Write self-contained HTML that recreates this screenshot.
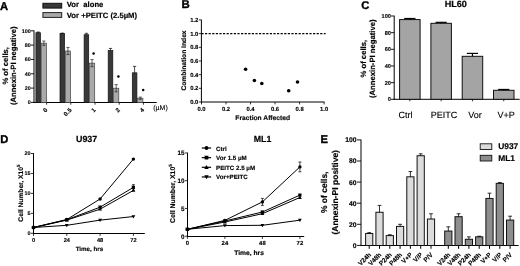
<!DOCTYPE html>
<html><head><meta charset="utf-8"><style>
html,body{margin:0;padding:0;background:#fff;}
svg{display:block;font-family:"Liberation Sans", sans-serif;filter:grayscale(100%) blur(0.3px);text-rendering:geometricPrecision;}
</style></head><body>
<svg width="520" height="266" viewBox="0 0 520 266">
<rect width="520" height="266" fill="#fff"/>
<text x="0.00" y="9.60" font-size="11.2" font-weight="bold" text-anchor="start" fill="#000" stroke="#000" stroke-width="0.35">A</text>
<rect x="42.90" y="3.30" width="18.80" height="4.80" fill="#383838" stroke="#111" stroke-width="1.0"/>
<rect x="42.90" y="12.60" width="18.80" height="4.80" fill="#aaaaaa" stroke="#222" stroke-width="1.0"/>
<text x="66.80" y="6.80" font-size="7.7" font-weight="bold" text-anchor="start" fill="#000" stroke="#000" stroke-width="0.162">Vor&#160;&#160;alone</text>
<text x="66.80" y="17.70" font-size="7.7" font-weight="bold" text-anchor="start" fill="#000" stroke="#000" stroke-width="0.162">Vor +PEITC (2.5µM)</text>
<line x1="34.00" y1="30.50" x2="34.00" y2="103.00" stroke="#000" stroke-width="1.0"/>
<line x1="33.50" y1="102.50" x2="156.70" y2="102.50" stroke="#000" stroke-width="1.0"/>
<line x1="31.00" y1="102.40" x2="34.00" y2="102.40" stroke="#000" stroke-width="0.9"/>
<text x="30.70" y="104.30" font-size="5.4" font-weight="bold" text-anchor="end" fill="#000" stroke="#000" stroke-width="0.113">0</text>
<line x1="31.00" y1="88.08" x2="34.00" y2="88.08" stroke="#000" stroke-width="0.9"/>
<text x="30.70" y="89.98" font-size="5.4" font-weight="bold" text-anchor="end" fill="#000" stroke="#000" stroke-width="0.113">20</text>
<line x1="31.00" y1="73.76" x2="34.00" y2="73.76" stroke="#000" stroke-width="0.9"/>
<text x="30.70" y="75.66" font-size="5.4" font-weight="bold" text-anchor="end" fill="#000" stroke="#000" stroke-width="0.113">40</text>
<line x1="31.00" y1="59.44" x2="34.00" y2="59.44" stroke="#000" stroke-width="0.9"/>
<text x="30.70" y="61.34" font-size="5.4" font-weight="bold" text-anchor="end" fill="#000" stroke="#000" stroke-width="0.113">60</text>
<line x1="31.00" y1="45.12" x2="34.00" y2="45.12" stroke="#000" stroke-width="0.9"/>
<text x="30.70" y="47.02" font-size="5.4" font-weight="bold" text-anchor="end" fill="#000" stroke="#000" stroke-width="0.113">80</text>
<line x1="31.00" y1="30.80" x2="34.00" y2="30.80" stroke="#000" stroke-width="0.9"/>
<text x="30.70" y="32.70" font-size="5.4" font-weight="bold" text-anchor="end" fill="#000" stroke="#000" stroke-width="0.113">100</text>
<text x="7.60" y="65.80" font-size="7.7" font-weight="bold" text-anchor="middle" fill="#000" transform="rotate(-90 7.6 65.8)" stroke="#000" stroke-width="0.162">% of cells,</text>
<text x="16.00" y="65.80" font-size="7.7" font-weight="bold" text-anchor="middle" fill="#000" transform="rotate(-90 16.0 65.8)" stroke="#000" stroke-width="0.162">(Annexin-PI negative)</text>
<rect x="35.90" y="32.73" width="4.60" height="69.77" fill="#383838" stroke="#111" stroke-width="0.7"/>
<rect x="41.20" y="43.19" width="5.30" height="59.31" fill="#aaaaaa" stroke="#444" stroke-width="0.7"/>
<line x1="38.20" y1="32.02" x2="38.20" y2="32.73" stroke="#000" stroke-width="0.7"/>
<line x1="36.60" y1="32.02" x2="39.80" y2="32.02" stroke="#000" stroke-width="0.7"/>
<line x1="43.85" y1="41.04" x2="43.85" y2="45.33" stroke="#222" stroke-width="0.7"/>
<line x1="42.25" y1="45.33" x2="45.45" y2="45.33" stroke="#222" stroke-width="0.7"/>
<line x1="42.25" y1="41.04" x2="45.45" y2="41.04" stroke="#222" stroke-width="0.7"/>
<line x1="46.60" y1="102.50" x2="46.60" y2="104.70" stroke="#000" stroke-width="0.8"/>
<rect x="60.00" y="33.52" width="4.60" height="68.98" fill="#383838" stroke="#111" stroke-width="0.7"/>
<rect x="65.30" y="50.99" width="5.30" height="51.51" fill="#aaaaaa" stroke="#444" stroke-width="0.7"/>
<line x1="62.30" y1="33.09" x2="62.30" y2="33.52" stroke="#000" stroke-width="0.7"/>
<line x1="60.70" y1="33.09" x2="63.90" y2="33.09" stroke="#000" stroke-width="0.7"/>
<line x1="67.95" y1="47.41" x2="67.95" y2="54.57" stroke="#222" stroke-width="0.7"/>
<line x1="66.35" y1="54.57" x2="69.55" y2="54.57" stroke="#222" stroke-width="0.7"/>
<line x1="66.35" y1="47.41" x2="69.55" y2="47.41" stroke="#222" stroke-width="0.7"/>
<line x1="70.80" y1="102.50" x2="70.80" y2="104.70" stroke="#000" stroke-width="0.8"/>
<rect x="84.10" y="34.74" width="4.60" height="67.76" fill="#383838" stroke="#111" stroke-width="0.7"/>
<rect x="89.40" y="63.16" width="5.30" height="39.34" fill="#aaaaaa" stroke="#444" stroke-width="0.7"/>
<line x1="86.40" y1="33.31" x2="86.40" y2="34.74" stroke="#000" stroke-width="0.7"/>
<line x1="84.80" y1="33.31" x2="88.00" y2="33.31" stroke="#000" stroke-width="0.7"/>
<line x1="92.05" y1="59.58" x2="92.05" y2="66.74" stroke="#222" stroke-width="0.7"/>
<line x1="90.45" y1="66.74" x2="93.65" y2="66.74" stroke="#222" stroke-width="0.7"/>
<line x1="90.45" y1="59.58" x2="93.65" y2="59.58" stroke="#222" stroke-width="0.7"/>
<line x1="95.00" y1="102.50" x2="95.00" y2="104.70" stroke="#000" stroke-width="0.8"/>
<rect x="108.20" y="50.56" width="4.60" height="51.94" fill="#383838" stroke="#111" stroke-width="0.7"/>
<rect x="113.50" y="88.22" width="5.30" height="14.28" fill="#aaaaaa" stroke="#444" stroke-width="0.7"/>
<line x1="110.50" y1="48.41" x2="110.50" y2="50.56" stroke="#000" stroke-width="0.7"/>
<line x1="108.90" y1="48.41" x2="112.10" y2="48.41" stroke="#000" stroke-width="0.7"/>
<line x1="116.15" y1="84.64" x2="116.15" y2="91.80" stroke="#222" stroke-width="0.7"/>
<line x1="114.55" y1="91.80" x2="117.75" y2="91.80" stroke="#222" stroke-width="0.7"/>
<line x1="114.55" y1="84.64" x2="117.75" y2="84.64" stroke="#222" stroke-width="0.7"/>
<line x1="119.20" y1="102.50" x2="119.20" y2="104.70" stroke="#000" stroke-width="0.8"/>
<rect x="132.30" y="72.83" width="4.60" height="29.67" fill="#383838" stroke="#111" stroke-width="0.7"/>
<rect x="137.60" y="98.18" width="5.30" height="4.32" fill="#aaaaaa" stroke="#444" stroke-width="0.7"/>
<line x1="134.60" y1="66.39" x2="134.60" y2="72.83" stroke="#000" stroke-width="0.7"/>
<line x1="133.00" y1="66.39" x2="136.20" y2="66.39" stroke="#000" stroke-width="0.7"/>
<line x1="140.25" y1="97.10" x2="140.25" y2="99.25" stroke="#222" stroke-width="0.7"/>
<line x1="138.65" y1="99.25" x2="141.85" y2="99.25" stroke="#222" stroke-width="0.7"/>
<line x1="138.65" y1="97.10" x2="141.85" y2="97.10" stroke="#222" stroke-width="0.7"/>
<line x1="143.40" y1="102.50" x2="143.40" y2="104.70" stroke="#000" stroke-width="0.8"/>
<text x="47.80" y="110.50" font-size="6.0" font-weight="bold" text-anchor="end" fill="#000" transform="rotate(-45 47.800000000000004 110.5)" stroke="#000" stroke-width="0.126">0</text>
<text x="72.00" y="110.50" font-size="6.0" font-weight="bold" text-anchor="end" fill="#000" transform="rotate(-45 72.0 110.5)" stroke="#000" stroke-width="0.126">0.5</text>
<text x="96.20" y="110.50" font-size="6.0" font-weight="bold" text-anchor="end" fill="#000" transform="rotate(-45 96.2 110.5)" stroke="#000" stroke-width="0.126">1</text>
<text x="120.40" y="110.50" font-size="6.0" font-weight="bold" text-anchor="end" fill="#000" transform="rotate(-45 120.39999999999999 110.5)" stroke="#000" stroke-width="0.126">2</text>
<text x="144.60" y="110.50" font-size="6.0" font-weight="bold" text-anchor="end" fill="#000" transform="rotate(-45 144.6 110.5)" stroke="#000" stroke-width="0.126">4</text>
<circle cx="93.60" cy="53.40" r="1.25" fill="#000"/>
<circle cx="118.40" cy="76.40" r="1.25" fill="#000"/>
<circle cx="143.20" cy="90.00" r="1.25" fill="#000"/>
<text x="153.20" y="109.80" font-size="7.0" font-weight="normal" text-anchor="start" fill="#000" stroke="#000" stroke-width="0.120">(µM)</text>
<text x="181.40" y="8.10" font-size="11.4" font-weight="bold" text-anchor="start" fill="#000" stroke="#000" stroke-width="0.35">B</text>
<line x1="201.40" y1="19.62" x2="201.40" y2="102.50" stroke="#000" stroke-width="1.0"/>
<line x1="201.00" y1="102.00" x2="324.50" y2="102.00" stroke="#000" stroke-width="1.0"/>
<line x1="198.80" y1="102.00" x2="201.40" y2="102.00" stroke="#000" stroke-width="0.8"/>
<text x="198.40" y="104.10" font-size="5.9" font-weight="bold" text-anchor="end" fill="#000" stroke="#000" stroke-width="0.124">0.0</text>
<line x1="198.80" y1="88.32" x2="201.40" y2="88.32" stroke="#000" stroke-width="0.8"/>
<text x="198.40" y="90.42" font-size="5.9" font-weight="bold" text-anchor="end" fill="#000" stroke="#000" stroke-width="0.124">0.2</text>
<line x1="198.80" y1="74.64" x2="201.40" y2="74.64" stroke="#000" stroke-width="0.8"/>
<text x="198.40" y="76.74" font-size="5.9" font-weight="bold" text-anchor="end" fill="#000" stroke="#000" stroke-width="0.124">0.4</text>
<line x1="198.80" y1="60.96" x2="201.40" y2="60.96" stroke="#000" stroke-width="0.8"/>
<text x="198.40" y="63.06" font-size="5.9" font-weight="bold" text-anchor="end" fill="#000" stroke="#000" stroke-width="0.124">0.6</text>
<line x1="198.80" y1="47.28" x2="201.40" y2="47.28" stroke="#000" stroke-width="0.8"/>
<text x="198.40" y="49.38" font-size="5.9" font-weight="bold" text-anchor="end" fill="#000" stroke="#000" stroke-width="0.124">0.8</text>
<line x1="198.80" y1="33.60" x2="201.40" y2="33.60" stroke="#000" stroke-width="0.8"/>
<text x="198.40" y="35.70" font-size="5.9" font-weight="bold" text-anchor="end" fill="#000" stroke="#000" stroke-width="0.124">1.0</text>
<line x1="198.80" y1="19.92" x2="201.40" y2="19.92" stroke="#000" stroke-width="0.8"/>
<text x="198.40" y="22.02" font-size="5.9" font-weight="bold" text-anchor="end" fill="#000" stroke="#000" stroke-width="0.124">1.2</text>
<line x1="201.50" y1="102.00" x2="201.50" y2="104.40" stroke="#000" stroke-width="0.8"/>
<text x="201.50" y="110.50" font-size="5.9" font-weight="bold" text-anchor="middle" fill="#000" stroke="#000" stroke-width="0.124">0.0</text>
<line x1="226.02" y1="102.00" x2="226.02" y2="104.40" stroke="#000" stroke-width="0.8"/>
<text x="226.02" y="110.50" font-size="5.9" font-weight="bold" text-anchor="middle" fill="#000" stroke="#000" stroke-width="0.124">0.2</text>
<line x1="250.54" y1="102.00" x2="250.54" y2="104.40" stroke="#000" stroke-width="0.8"/>
<text x="250.54" y="110.50" font-size="5.9" font-weight="bold" text-anchor="middle" fill="#000" stroke="#000" stroke-width="0.124">0.4</text>
<line x1="275.06" y1="102.00" x2="275.06" y2="104.40" stroke="#000" stroke-width="0.8"/>
<text x="275.06" y="110.50" font-size="5.9" font-weight="bold" text-anchor="middle" fill="#000" stroke="#000" stroke-width="0.124">0.6</text>
<line x1="299.58" y1="102.00" x2="299.58" y2="104.40" stroke="#000" stroke-width="0.8"/>
<text x="299.58" y="110.50" font-size="5.9" font-weight="bold" text-anchor="middle" fill="#000" stroke="#000" stroke-width="0.124">0.8</text>
<line x1="324.10" y1="102.00" x2="324.10" y2="104.40" stroke="#000" stroke-width="0.8"/>
<text x="324.10" y="110.50" font-size="5.9" font-weight="bold" text-anchor="middle" fill="#000" stroke="#000" stroke-width="0.124">1.0</text>
<line x1="201.40" y1="33.60" x2="325.60" y2="33.60" stroke="#000" stroke-width="1.1" stroke-dasharray="2.2 1.4"/>
<circle cx="245.60" cy="69.30" r="1.8" fill="#000"/>
<circle cx="254.40" cy="80.50" r="1.8" fill="#000"/>
<circle cx="261.80" cy="83.50" r="1.8" fill="#000"/>
<circle cx="288.70" cy="90.80" r="1.8" fill="#000"/>
<circle cx="297.50" cy="82.00" r="1.8" fill="#000"/>
<text x="262.70" y="120.20" font-size="6.7" font-weight="bold" text-anchor="middle" fill="#000" stroke="#000" stroke-width="0.141">Fraction Affected</text>
<text x="186.30" y="60.50" font-size="6.7" font-weight="bold" text-anchor="middle" fill="#000" transform="rotate(-90 186.3 60.5)" stroke="#000" stroke-width="0.141">Combination Index</text>
<text x="361.20" y="8.90" font-size="11.2" font-weight="bold" text-anchor="start" fill="#000" stroke="#000" stroke-width="0.35">C</text>
<text x="455.80" y="7.00" font-size="9.1" font-weight="bold" text-anchor="middle" fill="#000" stroke="#000" stroke-width="0.191">HL60</text>
<line x1="394.20" y1="15.70" x2="394.20" y2="99.80" stroke="#000" stroke-width="1.0"/>
<line x1="393.70" y1="99.30" x2="519.70" y2="99.30" stroke="#000" stroke-width="1.0"/>
<line x1="391.00" y1="99.30" x2="394.20" y2="99.30" stroke="#000" stroke-width="0.9"/>
<text x="390.90" y="101.30" font-size="5.6" font-weight="bold" text-anchor="end" fill="#000" stroke="#000" stroke-width="0.118">0</text>
<line x1="391.00" y1="82.64" x2="394.20" y2="82.64" stroke="#000" stroke-width="0.9"/>
<text x="390.90" y="84.64" font-size="5.6" font-weight="bold" text-anchor="end" fill="#000" stroke="#000" stroke-width="0.118">20</text>
<line x1="391.00" y1="65.98" x2="394.20" y2="65.98" stroke="#000" stroke-width="0.9"/>
<text x="390.90" y="67.98" font-size="5.6" font-weight="bold" text-anchor="end" fill="#000" stroke="#000" stroke-width="0.118">40</text>
<line x1="391.00" y1="49.32" x2="394.20" y2="49.32" stroke="#000" stroke-width="0.9"/>
<text x="390.90" y="51.32" font-size="5.6" font-weight="bold" text-anchor="end" fill="#000" stroke="#000" stroke-width="0.118">60</text>
<line x1="391.00" y1="32.66" x2="394.20" y2="32.66" stroke="#000" stroke-width="0.9"/>
<text x="390.90" y="34.66" font-size="5.6" font-weight="bold" text-anchor="end" fill="#000" stroke="#000" stroke-width="0.118">80</text>
<line x1="391.00" y1="16.00" x2="394.20" y2="16.00" stroke="#000" stroke-width="0.9"/>
<text x="390.90" y="18.00" font-size="5.6" font-weight="bold" text-anchor="end" fill="#000" stroke="#000" stroke-width="0.118">100</text>
<text x="366.20" y="58.70" font-size="7.7" font-weight="bold" text-anchor="middle" fill="#000" transform="rotate(-90 366.2 58.7)" stroke="#000" stroke-width="0.162">% of cells,</text>
<text x="375.30" y="58.70" font-size="7.7" font-weight="bold" text-anchor="middle" fill="#000" transform="rotate(-90 375.3 58.7)" stroke="#000" stroke-width="0.162">(Annexin-PI negative)</text>
<rect x="399.60" y="19.58" width="20.50" height="79.72" fill="#a4a4a4" stroke="#111" stroke-width="1.0"/>
<line x1="409.85" y1="18.50" x2="409.85" y2="19.58" stroke="#000" stroke-width="1.2"/>
<line x1="404.25" y1="18.50" x2="415.45" y2="18.50" stroke="#000" stroke-width="1.2"/>
<line x1="409.85" y1="99.30" x2="409.85" y2="101.30" stroke="#000" stroke-width="0.8"/>
<text x="405.60" y="118.10" font-size="9.0" font-weight="normal" text-anchor="middle" fill="#000" stroke="#000" stroke-width="0.120">Ctrl</text>
<rect x="430.90" y="23.33" width="20.50" height="75.97" fill="#a4a4a4" stroke="#111" stroke-width="1.0"/>
<line x1="441.15" y1="22.33" x2="441.15" y2="23.33" stroke="#000" stroke-width="1.2"/>
<line x1="435.55" y1="22.33" x2="446.75" y2="22.33" stroke="#000" stroke-width="1.2"/>
<line x1="441.15" y1="99.30" x2="441.15" y2="101.30" stroke="#000" stroke-width="0.8"/>
<text x="443.90" y="118.10" font-size="9.0" font-weight="normal" text-anchor="middle" fill="#000" stroke="#000" stroke-width="0.120">PEITC</text>
<rect x="462.20" y="56.32" width="20.50" height="42.98" fill="#a4a4a4" stroke="#111" stroke-width="1.0"/>
<line x1="472.45" y1="53.40" x2="472.45" y2="56.32" stroke="#000" stroke-width="1.2"/>
<line x1="466.85" y1="53.40" x2="478.05" y2="53.40" stroke="#000" stroke-width="1.2"/>
<line x1="472.45" y1="99.30" x2="472.45" y2="101.30" stroke="#000" stroke-width="0.8"/>
<text x="475.00" y="118.10" font-size="9.0" font-weight="normal" text-anchor="middle" fill="#000" stroke="#000" stroke-width="0.120">Vor</text>
<rect x="493.50" y="90.30" width="20.50" height="9.00" fill="#a4a4a4" stroke="#111" stroke-width="1.0"/>
<line x1="503.75" y1="89.47" x2="503.75" y2="90.30" stroke="#000" stroke-width="1.2"/>
<line x1="498.15" y1="89.47" x2="509.35" y2="89.47" stroke="#000" stroke-width="1.2"/>
<line x1="503.75" y1="99.30" x2="503.75" y2="101.30" stroke="#000" stroke-width="0.8"/>
<text x="506.10" y="118.10" font-size="9.0" font-weight="normal" text-anchor="middle" fill="#000" stroke="#000" stroke-width="0.120">V+P</text>
<text x="0.30" y="143.00" font-size="11.2" font-weight="bold" text-anchor="start" fill="#000" stroke="#000" stroke-width="0.35">D</text>
<text x="86.60" y="141.60" font-size="8.9" font-weight="bold" text-anchor="middle" fill="#000" stroke="#000" stroke-width="0.187">U937</text>
<line x1="33.50" y1="153.20" x2="33.50" y2="234.00" stroke="#000" stroke-width="1.0"/>
<line x1="33.10" y1="233.50" x2="144.80" y2="233.50" stroke="#000" stroke-width="1.0"/>
<line x1="30.90" y1="233.30" x2="33.50" y2="233.30" stroke="#000" stroke-width="0.8"/>
<text x="30.50" y="235.20" font-size="5.4" font-weight="bold" text-anchor="end" fill="#000" stroke="#000" stroke-width="0.113">0</text>
<line x1="30.90" y1="213.35" x2="33.50" y2="213.35" stroke="#000" stroke-width="0.8"/>
<text x="30.50" y="215.25" font-size="5.4" font-weight="bold" text-anchor="end" fill="#000" stroke="#000" stroke-width="0.113">5</text>
<line x1="30.90" y1="193.40" x2="33.50" y2="193.40" stroke="#000" stroke-width="0.8"/>
<text x="30.50" y="195.30" font-size="5.4" font-weight="bold" text-anchor="end" fill="#000" stroke="#000" stroke-width="0.113">10</text>
<line x1="30.90" y1="173.45" x2="33.50" y2="173.45" stroke="#000" stroke-width="0.8"/>
<text x="30.50" y="175.35" font-size="5.4" font-weight="bold" text-anchor="end" fill="#000" stroke="#000" stroke-width="0.113">15</text>
<line x1="30.90" y1="153.50" x2="33.50" y2="153.50" stroke="#000" stroke-width="0.8"/>
<text x="30.50" y="155.40" font-size="5.4" font-weight="bold" text-anchor="end" fill="#000" stroke="#000" stroke-width="0.113">20</text>
<line x1="33.50" y1="233.50" x2="33.50" y2="235.90" stroke="#000" stroke-width="0.8"/>
<text x="33.50" y="242.20" font-size="5.6" font-weight="bold" text-anchor="middle" fill="#000" stroke="#000" stroke-width="0.118">0</text>
<line x1="66.80" y1="233.50" x2="66.80" y2="235.90" stroke="#000" stroke-width="0.8"/>
<text x="66.80" y="242.20" font-size="5.6" font-weight="bold" text-anchor="middle" fill="#000" stroke="#000" stroke-width="0.118">24</text>
<line x1="100.10" y1="233.50" x2="100.10" y2="235.90" stroke="#000" stroke-width="0.8"/>
<text x="100.10" y="242.20" font-size="5.6" font-weight="bold" text-anchor="middle" fill="#000" stroke="#000" stroke-width="0.118">48</text>
<line x1="133.40" y1="233.50" x2="133.40" y2="235.90" stroke="#000" stroke-width="0.8"/>
<text x="133.40" y="242.20" font-size="5.6" font-weight="bold" text-anchor="middle" fill="#000" stroke="#000" stroke-width="0.118">72</text>
<text x="89.40" y="250.80" font-size="6.2" font-weight="bold" text-anchor="middle" fill="#000" stroke="#000" stroke-width="0.130">Time, hrs</text>
<text x="22.90" y="193.10" font-size="6.7" font-weight="bold" text-anchor="middle" fill="#000" transform="rotate(-90 22.9 193.1)" stroke="#000" stroke-width="0.141">Cell Number, X10<tspan font-size="4.5" dy="-2.7">5</tspan></text>
<polyline points="33.50,227.51 66.80,219.53 100.10,198.99 133.40,159.09" fill="none" stroke="#000" stroke-width="1.0"/>
<circle cx="33.50" cy="227.51" r="1.7" fill="#000"/>
<circle cx="66.80" cy="219.53" r="1.7" fill="#000"/>
<circle cx="100.10" cy="198.99" r="1.7" fill="#000"/>
<circle cx="133.40" cy="159.09" r="1.7" fill="#000"/>
<polyline points="33.50,227.51 66.80,219.73 100.10,207.17 133.40,187.42" fill="none" stroke="#000" stroke-width="1.0"/>
<rect x="31.95" y="225.96" width="3.10" height="3.10" fill="#000" stroke="#000" stroke-width="0.1"/>
<rect x="65.25" y="218.18" width="3.10" height="3.10" fill="#000" stroke="#000" stroke-width="0.1"/>
<rect x="98.55" y="205.62" width="3.10" height="3.10" fill="#000" stroke="#000" stroke-width="0.1"/>
<rect x="131.85" y="185.87" width="3.10" height="3.10" fill="#000" stroke="#000" stroke-width="0.1"/>
<polyline points="33.50,227.51 66.80,220.13 100.10,209.16 133.40,190.41" fill="none" stroke="#000" stroke-width="1.0"/>
<path d="M31.60,228.91 L35.40,228.91 L33.50,225.61 Z" fill="#000"/>
<path d="M64.90,221.53 L68.70,221.53 L66.80,218.23 Z" fill="#000"/>
<path d="M98.20,210.56 L102.00,210.56 L100.10,207.26 Z" fill="#000"/>
<path d="M131.50,191.81 L135.30,191.81 L133.40,188.51 Z" fill="#000"/>
<polyline points="33.50,227.51 66.80,225.32 100.10,220.13 133.40,216.54" fill="none" stroke="#000" stroke-width="1.0"/>
<path d="M31.60,226.11 L35.40,226.11 L33.50,229.41 Z" fill="#000"/>
<path d="M64.90,223.92 L68.70,223.92 L66.80,227.22 Z" fill="#000"/>
<path d="M98.20,218.73 L102.00,218.73 L100.10,222.03 Z" fill="#000"/>
<path d="M131.50,215.14 L135.30,215.14 L133.40,218.44 Z" fill="#000"/>
<line x1="133.40" y1="184.62" x2="133.40" y2="190.21" stroke="#000" stroke-width="0.7"/>
<line x1="132.00" y1="190.21" x2="134.80" y2="190.21" stroke="#000" stroke-width="0.7"/>
<line x1="132.00" y1="184.62" x2="134.80" y2="184.62" stroke="#000" stroke-width="0.7"/>
<text x="262.60" y="141.60" font-size="8.8" font-weight="bold" text-anchor="middle" fill="#000" stroke="#000" stroke-width="0.185">ML1</text>
<line x1="187.50" y1="152.65" x2="187.50" y2="237.00" stroke="#000" stroke-width="1.0"/>
<line x1="187.10" y1="236.50" x2="304.20" y2="236.50" stroke="#000" stroke-width="1.0"/>
<line x1="184.90" y1="236.20" x2="187.50" y2="236.20" stroke="#000" stroke-width="0.8"/>
<text x="184.50" y="238.50" font-size="6.3" font-weight="bold" text-anchor="end" fill="#000" stroke="#000" stroke-width="0.132">0</text>
<line x1="184.90" y1="208.45" x2="187.50" y2="208.45" stroke="#000" stroke-width="0.8"/>
<text x="184.50" y="210.75" font-size="6.3" font-weight="bold" text-anchor="end" fill="#000" stroke="#000" stroke-width="0.132">5</text>
<line x1="184.90" y1="180.70" x2="187.50" y2="180.70" stroke="#000" stroke-width="0.8"/>
<text x="184.50" y="183.00" font-size="6.3" font-weight="bold" text-anchor="end" fill="#000" stroke="#000" stroke-width="0.132">10</text>
<line x1="184.90" y1="152.95" x2="187.50" y2="152.95" stroke="#000" stroke-width="0.8"/>
<text x="184.50" y="155.25" font-size="6.3" font-weight="bold" text-anchor="end" fill="#000" stroke="#000" stroke-width="0.132">15</text>
<line x1="187.40" y1="236.50" x2="187.40" y2="238.90" stroke="#000" stroke-width="0.8"/>
<text x="187.40" y="245.40" font-size="5.9" font-weight="bold" text-anchor="middle" fill="#000" stroke="#000" stroke-width="0.124">0</text>
<line x1="224.90" y1="236.50" x2="224.90" y2="238.90" stroke="#000" stroke-width="0.8"/>
<text x="224.90" y="245.40" font-size="5.9" font-weight="bold" text-anchor="middle" fill="#000" stroke="#000" stroke-width="0.124">24</text>
<line x1="262.40" y1="236.50" x2="262.40" y2="238.90" stroke="#000" stroke-width="0.8"/>
<text x="262.40" y="245.40" font-size="5.9" font-weight="bold" text-anchor="middle" fill="#000" stroke="#000" stroke-width="0.124">48</text>
<line x1="299.90" y1="236.50" x2="299.90" y2="238.90" stroke="#000" stroke-width="0.8"/>
<text x="299.90" y="245.40" font-size="5.9" font-weight="bold" text-anchor="middle" fill="#000" stroke="#000" stroke-width="0.124">72</text>
<text x="249.10" y="255.20" font-size="6.7" font-weight="bold" text-anchor="middle" fill="#000" stroke="#000" stroke-width="0.141">Time, hrs</text>
<text x="175.30" y="193.60" font-size="6.9" font-weight="bold" text-anchor="middle" fill="#000" transform="rotate(-90 175.3 193.6)" stroke="#000" stroke-width="0.145">Cell Number, X10<tspan font-size="4.6" dy="-2.8">5</tspan></text>
<polyline points="187.40,229.30 224.90,220.40 262.40,201.90 299.90,166.90" fill="none" stroke="#000" stroke-width="1.0"/>
<circle cx="187.40" cy="229.30" r="1.7" fill="#000"/>
<circle cx="224.90" cy="220.40" r="1.7" fill="#000"/>
<circle cx="262.40" cy="201.90" r="1.7" fill="#000"/>
<circle cx="299.90" cy="166.90" r="1.7" fill="#000"/>
<polyline points="187.40,229.30 224.90,221.00 262.40,212.00 299.90,195.10" fill="none" stroke="#000" stroke-width="1.0"/>
<rect x="185.85" y="227.75" width="3.10" height="3.10" fill="#000" stroke="#000" stroke-width="0.1"/>
<rect x="223.35" y="219.45" width="3.10" height="3.10" fill="#000" stroke="#000" stroke-width="0.1"/>
<rect x="260.85" y="210.45" width="3.10" height="3.10" fill="#000" stroke="#000" stroke-width="0.1"/>
<rect x="298.35" y="193.55" width="3.10" height="3.10" fill="#000" stroke="#000" stroke-width="0.1"/>
<polyline points="187.40,229.30 224.90,222.00 262.40,213.70 299.90,197.50" fill="none" stroke="#000" stroke-width="1.0"/>
<path d="M185.50,230.70 L189.30,230.70 L187.40,227.40 Z" fill="#000"/>
<path d="M223.00,223.40 L226.80,223.40 L224.90,220.10 Z" fill="#000"/>
<path d="M260.50,215.10 L264.30,215.10 L262.40,211.80 Z" fill="#000"/>
<path d="M298.00,198.90 L301.80,198.90 L299.90,195.60 Z" fill="#000"/>
<polyline points="187.40,229.30 224.90,225.60 262.40,225.30 299.90,220.20" fill="none" stroke="#000" stroke-width="1.0"/>
<path d="M185.50,227.90 L189.30,227.90 L187.40,231.20 Z" fill="#000"/>
<path d="M223.00,224.20 L226.80,224.20 L224.90,227.50 Z" fill="#000"/>
<path d="M260.50,223.90 L264.30,223.90 L262.40,227.20 Z" fill="#000"/>
<path d="M298.00,218.80 L301.80,218.80 L299.90,222.10 Z" fill="#000"/>
<line x1="299.90" y1="162.00" x2="299.90" y2="171.80" stroke="#000" stroke-width="0.7"/>
<line x1="298.40" y1="171.80" x2="301.40" y2="171.80" stroke="#000" stroke-width="0.7"/>
<line x1="298.40" y1="162.00" x2="301.40" y2="162.00" stroke="#000" stroke-width="0.7"/>
<line x1="262.40" y1="198.40" x2="262.40" y2="205.40" stroke="#000" stroke-width="0.7"/>
<line x1="260.90" y1="205.40" x2="263.90" y2="205.40" stroke="#000" stroke-width="0.7"/>
<line x1="260.90" y1="198.40" x2="263.90" y2="198.40" stroke="#000" stroke-width="0.7"/>
<line x1="201.80" y1="148.00" x2="211.10" y2="148.00" stroke="#000" stroke-width="1.2"/>
<circle cx="206.50" cy="148.00" r="1.9549999999999998" fill="#000"/>
<text x="216.10" y="150.50" font-size="6.2" font-weight="bold" text-anchor="start" fill="#000" stroke="#000" stroke-width="0.130">Ctrl</text>
<line x1="201.80" y1="157.65" x2="211.10" y2="157.65" stroke="#000" stroke-width="1.2"/>
<rect x="204.72" y="155.87" width="3.56" height="3.56" fill="#000" stroke="#000" stroke-width="0.1"/>
<text x="216.10" y="160.15" font-size="6.2" font-weight="bold" text-anchor="start" fill="#000" stroke="#000" stroke-width="0.130">Vor 1.5 µM</text>
<line x1="201.80" y1="167.30" x2="211.10" y2="167.30" stroke="#000" stroke-width="1.2"/>
<path d="M204.31,168.91 L208.69,168.91 L206.50,165.12 Z" fill="#000"/>
<text x="216.10" y="169.80" font-size="6.2" font-weight="bold" text-anchor="start" fill="#000" stroke="#000" stroke-width="0.130">PEITC 2.5 µM</text>
<line x1="201.80" y1="176.95" x2="211.10" y2="176.95" stroke="#000" stroke-width="1.2"/>
<path d="M204.31,175.34 L208.69,175.34 L206.50,179.13 Z" fill="#000"/>
<text x="216.10" y="179.45" font-size="6.2" font-weight="bold" text-anchor="start" fill="#000" stroke="#000" stroke-width="0.130">Vor+PEITC</text>
<text x="320.50" y="142.90" font-size="11.2" font-weight="bold" text-anchor="start" fill="#000" stroke="#000" stroke-width="0.35">E</text>
<line x1="361.00" y1="139.60" x2="361.00" y2="246.00" stroke="#000" stroke-width="1.0"/>
<line x1="360.50" y1="245.50" x2="518.60" y2="245.50" stroke="#000" stroke-width="1.0"/>
<line x1="357.00" y1="245.40" x2="361.00" y2="245.40" stroke="#000" stroke-width="0.9"/>
<text x="356.60" y="247.80" font-size="6.8" font-weight="bold" text-anchor="end" fill="#000" stroke="#000" stroke-width="0.143">0</text>
<line x1="357.00" y1="224.30" x2="361.00" y2="224.30" stroke="#000" stroke-width="0.9"/>
<text x="356.60" y="226.70" font-size="6.8" font-weight="bold" text-anchor="end" fill="#000" stroke="#000" stroke-width="0.143">20</text>
<line x1="357.00" y1="203.20" x2="361.00" y2="203.20" stroke="#000" stroke-width="0.9"/>
<text x="356.60" y="205.60" font-size="6.8" font-weight="bold" text-anchor="end" fill="#000" stroke="#000" stroke-width="0.143">40</text>
<line x1="357.00" y1="182.10" x2="361.00" y2="182.10" stroke="#000" stroke-width="0.9"/>
<text x="356.60" y="184.50" font-size="6.8" font-weight="bold" text-anchor="end" fill="#000" stroke="#000" stroke-width="0.143">60</text>
<line x1="357.00" y1="161.00" x2="361.00" y2="161.00" stroke="#000" stroke-width="0.9"/>
<text x="356.60" y="163.40" font-size="6.8" font-weight="bold" text-anchor="end" fill="#000" stroke="#000" stroke-width="0.143">80</text>
<line x1="357.00" y1="139.90" x2="361.00" y2="139.90" stroke="#000" stroke-width="0.9"/>
<text x="356.60" y="142.30" font-size="6.8" font-weight="bold" text-anchor="end" fill="#000" stroke="#000" stroke-width="0.143">100</text>
<text x="327.40" y="192.30" font-size="8.5" font-weight="bold" text-anchor="middle" fill="#000" transform="rotate(-90 327.4 192.3)" stroke="#000" stroke-width="0.179">% of cells,</text>
<text x="337.60" y="192.30" font-size="8.5" font-weight="bold" text-anchor="middle" fill="#000" transform="rotate(-90 337.6 192.3)" stroke="#000" stroke-width="0.179">(Annexin-PI positive)</text>
<rect x="365.60" y="233.48" width="7.20" height="12.02" fill="#dcdcdc" stroke="#111" stroke-width="1.0"/>
<line x1="369.20" y1="232.63" x2="369.20" y2="233.48" stroke="#000" stroke-width="0.8"/>
<line x1="367.30" y1="232.63" x2="371.10" y2="232.63" stroke="#000" stroke-width="0.8"/>
<line x1="369.20" y1="245.50" x2="369.20" y2="248.80" stroke="#000" stroke-width="1.0"/>
<text x="371.60" y="255.20" font-size="6.4" font-weight="bold" text-anchor="end" fill="#000" transform="rotate(-45 371.6 255.2)" stroke="#000" stroke-width="0.134">V24h</text>
<rect x="444.70" y="231.05" width="7.20" height="14.45" fill="#8e8e8e" stroke="#111" stroke-width="1.0"/>
<line x1="448.30" y1="226.83" x2="448.30" y2="231.05" stroke="#000" stroke-width="0.8"/>
<line x1="446.40" y1="226.83" x2="450.20" y2="226.83" stroke="#000" stroke-width="0.8"/>
<line x1="448.30" y1="245.50" x2="448.30" y2="248.80" stroke="#000" stroke-width="1.0"/>
<text x="450.70" y="255.20" font-size="6.4" font-weight="bold" text-anchor="end" fill="#000" transform="rotate(-45 450.7 255.2)" stroke="#000" stroke-width="0.134">V24h</text>
<rect x="375.90" y="212.27" width="7.20" height="33.23" fill="#dcdcdc" stroke="#111" stroke-width="1.0"/>
<line x1="379.50" y1="205.42" x2="379.50" y2="212.27" stroke="#000" stroke-width="0.8"/>
<line x1="377.60" y1="205.42" x2="381.40" y2="205.42" stroke="#000" stroke-width="0.8"/>
<line x1="379.50" y1="245.50" x2="379.50" y2="248.80" stroke="#000" stroke-width="1.0"/>
<text x="381.90" y="255.20" font-size="6.4" font-weight="bold" text-anchor="end" fill="#000" transform="rotate(-45 381.90000000000003 255.2)" stroke="#000" stroke-width="0.134">V48h</text>
<rect x="455.00" y="216.70" width="7.20" height="28.80" fill="#8e8e8e" stroke="#111" stroke-width="1.0"/>
<line x1="458.60" y1="213.75" x2="458.60" y2="216.70" stroke="#000" stroke-width="0.8"/>
<line x1="456.70" y1="213.75" x2="460.50" y2="213.75" stroke="#000" stroke-width="0.8"/>
<line x1="458.60" y1="245.50" x2="458.60" y2="248.80" stroke="#000" stroke-width="1.0"/>
<text x="461.00" y="255.20" font-size="6.4" font-weight="bold" text-anchor="end" fill="#000" transform="rotate(-45 461.0 255.2)" stroke="#000" stroke-width="0.134">V48h</text>
<rect x="386.20" y="235.59" width="7.20" height="9.91" fill="#dcdcdc" stroke="#111" stroke-width="1.0"/>
<line x1="389.80" y1="234.74" x2="389.80" y2="235.59" stroke="#000" stroke-width="0.8"/>
<line x1="387.90" y1="234.74" x2="391.70" y2="234.74" stroke="#000" stroke-width="0.8"/>
<line x1="389.80" y1="245.50" x2="389.80" y2="248.80" stroke="#000" stroke-width="1.0"/>
<text x="392.20" y="255.20" font-size="6.4" font-weight="bold" text-anchor="end" fill="#000" transform="rotate(-45 392.20000000000005 255.2)" stroke="#000" stroke-width="0.134">P24h</text>
<rect x="465.30" y="239.28" width="7.20" height="6.22" fill="#8e8e8e" stroke="#111" stroke-width="1.0"/>
<line x1="468.90" y1="236.85" x2="468.90" y2="239.28" stroke="#000" stroke-width="0.8"/>
<line x1="467.00" y1="236.85" x2="470.80" y2="236.85" stroke="#000" stroke-width="0.8"/>
<line x1="468.90" y1="245.50" x2="468.90" y2="248.80" stroke="#000" stroke-width="1.0"/>
<text x="471.30" y="255.20" font-size="6.4" font-weight="bold" text-anchor="end" fill="#000" transform="rotate(-45 471.3 255.2)" stroke="#000" stroke-width="0.134">P24h</text>
<rect x="396.50" y="226.41" width="7.20" height="19.09" fill="#dcdcdc" stroke="#111" stroke-width="1.0"/>
<line x1="400.10" y1="224.30" x2="400.10" y2="226.41" stroke="#000" stroke-width="0.8"/>
<line x1="398.20" y1="224.30" x2="402.00" y2="224.30" stroke="#000" stroke-width="0.8"/>
<line x1="400.10" y1="245.50" x2="400.10" y2="248.80" stroke="#000" stroke-width="1.0"/>
<text x="402.50" y="255.20" font-size="6.4" font-weight="bold" text-anchor="end" fill="#000" transform="rotate(-45 402.5 255.2)" stroke="#000" stroke-width="0.134">P48h</text>
<rect x="475.60" y="236.85" width="7.20" height="8.65" fill="#8e8e8e" stroke="#111" stroke-width="1.0"/>
<line x1="479.20" y1="236.22" x2="479.20" y2="236.85" stroke="#000" stroke-width="0.8"/>
<line x1="477.30" y1="236.22" x2="481.10" y2="236.22" stroke="#000" stroke-width="0.8"/>
<line x1="479.20" y1="245.50" x2="479.20" y2="248.80" stroke="#000" stroke-width="1.0"/>
<text x="481.60" y="255.20" font-size="6.4" font-weight="bold" text-anchor="end" fill="#000" transform="rotate(-45 481.59999999999997 255.2)" stroke="#000" stroke-width="0.134">P48h</text>
<rect x="406.80" y="176.82" width="7.20" height="68.68" fill="#dcdcdc" stroke="#111" stroke-width="1.0"/>
<line x1="410.40" y1="171.55" x2="410.40" y2="176.82" stroke="#000" stroke-width="0.8"/>
<line x1="408.50" y1="171.55" x2="412.30" y2="171.55" stroke="#000" stroke-width="0.8"/>
<line x1="410.40" y1="245.50" x2="410.40" y2="248.80" stroke="#000" stroke-width="1.0"/>
<text x="412.80" y="255.20" font-size="6.4" font-weight="bold" text-anchor="end" fill="#000" transform="rotate(-45 412.8 255.2)" stroke="#000" stroke-width="0.134">V+P</text>
<rect x="485.90" y="198.45" width="7.20" height="47.05" fill="#8e8e8e" stroke="#111" stroke-width="1.0"/>
<line x1="489.50" y1="193.18" x2="489.50" y2="198.45" stroke="#000" stroke-width="0.8"/>
<line x1="487.60" y1="193.18" x2="491.40" y2="193.18" stroke="#000" stroke-width="0.8"/>
<line x1="489.50" y1="245.50" x2="489.50" y2="248.80" stroke="#000" stroke-width="1.0"/>
<text x="491.90" y="255.20" font-size="6.4" font-weight="bold" text-anchor="end" fill="#000" transform="rotate(-45 491.9 255.2)" stroke="#000" stroke-width="0.134">V+P</text>
<rect x="417.10" y="155.73" width="7.20" height="89.77" fill="#dcdcdc" stroke="#111" stroke-width="1.0"/>
<line x1="420.70" y1="153.83" x2="420.70" y2="155.73" stroke="#000" stroke-width="0.8"/>
<line x1="418.80" y1="153.83" x2="422.60" y2="153.83" stroke="#000" stroke-width="0.8"/>
<line x1="420.70" y1="245.50" x2="420.70" y2="248.80" stroke="#000" stroke-width="1.0"/>
<text x="423.10" y="255.20" font-size="6.4" font-weight="bold" text-anchor="end" fill="#000" transform="rotate(-45 423.1 255.2)" stroke="#000" stroke-width="0.134">V/P</text>
<rect x="496.20" y="183.37" width="7.20" height="62.13" fill="#8e8e8e" stroke="#111" stroke-width="1.0"/>
<line x1="499.80" y1="182.52" x2="499.80" y2="183.37" stroke="#000" stroke-width="0.8"/>
<line x1="497.90" y1="182.52" x2="501.70" y2="182.52" stroke="#000" stroke-width="0.8"/>
<line x1="499.80" y1="245.50" x2="499.80" y2="248.80" stroke="#000" stroke-width="1.0"/>
<text x="502.20" y="255.20" font-size="6.4" font-weight="bold" text-anchor="end" fill="#000" transform="rotate(-45 502.2 255.2)" stroke="#000" stroke-width="0.134">V/P</text>
<rect x="427.40" y="219.03" width="7.20" height="26.47" fill="#dcdcdc" stroke="#111" stroke-width="1.0"/>
<line x1="431.00" y1="213.75" x2="431.00" y2="219.03" stroke="#000" stroke-width="0.8"/>
<line x1="429.10" y1="213.75" x2="432.90" y2="213.75" stroke="#000" stroke-width="0.8"/>
<line x1="431.00" y1="245.50" x2="431.00" y2="248.80" stroke="#000" stroke-width="1.0"/>
<text x="433.40" y="255.20" font-size="6.4" font-weight="bold" text-anchor="end" fill="#000" transform="rotate(-45 433.40000000000003 255.2)" stroke="#000" stroke-width="0.134">P/V</text>
<rect x="506.50" y="220.08" width="7.20" height="25.42" fill="#8e8e8e" stroke="#111" stroke-width="1.0"/>
<line x1="510.10" y1="216.18" x2="510.10" y2="220.08" stroke="#000" stroke-width="0.8"/>
<line x1="508.20" y1="216.18" x2="512.00" y2="216.18" stroke="#000" stroke-width="0.8"/>
<line x1="510.10" y1="245.50" x2="510.10" y2="248.80" stroke="#000" stroke-width="1.0"/>
<text x="512.50" y="255.20" font-size="6.4" font-weight="bold" text-anchor="end" fill="#000" transform="rotate(-45 512.5 255.2)" stroke="#000" stroke-width="0.134">P/V</text>
<rect x="480.20" y="143.80" width="11.60" height="5.70" fill="#dcdcdc" stroke="#111" stroke-width="0.9"/>
<rect x="480.20" y="155.30" width="11.60" height="5.70" fill="#8e8e8e" stroke="#111" stroke-width="0.9"/>
<text x="498.20" y="149.20" font-size="8.4" font-weight="bold" text-anchor="start" fill="#000" stroke="#000" stroke-width="0.176">U937</text>
<text x="498.20" y="161.10" font-size="8.4" font-weight="bold" text-anchor="start" fill="#000" stroke="#000" stroke-width="0.176">ML1</text>
</svg>
</body></html>
